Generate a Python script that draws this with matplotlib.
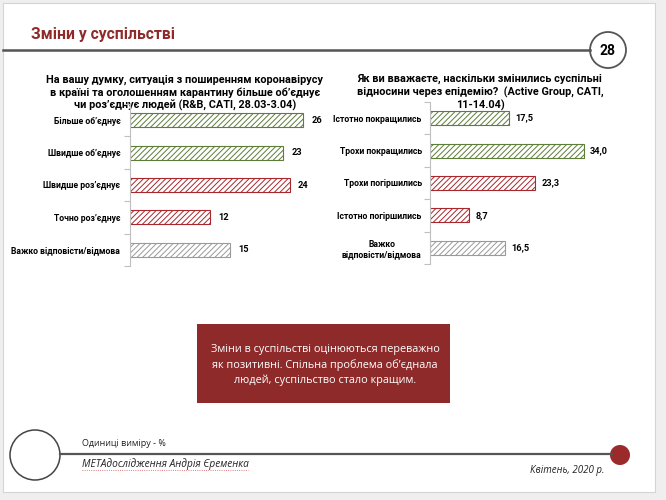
import matplotlib
matplotlib.use('Agg')
import matplotlib.pyplot as plt
from matplotlib.patches import Rectangle, Circle

# data
left_labels = ['Більше об’єднує', 'Швидше об’єднує', 'Швидше роз’єднує',
               'Точно роз’єднує', 'Важко відповісти/відмова']
left_values = [26, 23, 24, 12, 15]
left_groups = ['good', 'good', 'bad', 'bad', 'na']
left_title = ('На вашу думку, ситуація з поширенням коронавірусу\n'
              'в країні та оголошенням карантину більше об’єднує\n'
              'чи роз’єднує людей (R&B, CATI, 28.03-3.04)')

right_labels = ['Істотно покращились', 'Трохи покращились', 'Трохи погіршились',
                'Істотно погіршились', 'Важко\nвідповісти/відмова']
right_values = [17.5, 34.0, 23.3, 8.7, 16.5]
right_groups = ['good', 'good', 'bad', 'bad', 'na']
right_title = ('Як ви вважаєте, наскільки змінились суспільні\n'
               'відносини через епідемію?  (Active Group, CATI,\n'
               '11-14.04)')

colors = {'good': '#5d7d38', 'bad': '#a8282d', 'na': '#9a9a9a'}
red = '#8e2a2a'
narrow = ['DejaVu Sans Condensed', 'Roboto', 'DejaVu Sans']
plain = ['Open Sans', 'DejaVu Sans']

plt.rcParams['hatch.linewidth'] = 0.7

fig = plt.figure(figsize=(6.66, 5), dpi=100, facecolor='#efefef')

# background "slide" in pixel coordinates
bg = fig.add_axes([0, 0, 1, 1])
bg.set_xlim(0, 666)
bg.set_ylim(500, 0)
bg.axis('off')
bg.add_patch(Rectangle((3, 3), 652, 489, facecolor='white', edgecolor='#d4d4d4', lw=0.8))
bg.text(31, 35, 'Зміни у суспільстві', color=red, fontsize=11.3, fontweight='bold',
        family=narrow, va='center', ha='left')
bg.plot([3, 590], [50, 50], color='#555555', lw=1.8)
bg.add_patch(Circle((608, 50), 18, facecolor='white', edgecolor='#555555', lw=1.3))
bg.text(608, 51, '28', fontsize=10, fontweight='bold', family=narrow, ha='center', va='center')

# conclusion box
bg.add_patch(Rectangle((197, 324), 253, 79, facecolor=red, edgecolor='none'))
bg.text(325, 365, 'Зміни в суспільстві оцінюються переважно\nяк позитивні. Спільна проблема об’єднала\nлюдей, суспільство стало кращим.',
        color='white', fontsize=7.8, family=plain, ha='center', va='center', linespacing=1.45)

# footer
bg.plot([60, 612], [454, 454], color='#555555', lw=1.6)
bg.add_patch(Circle((35, 455), 25, facecolor='white', edgecolor='#444444', lw=1.1))
bg.add_patch(Circle((620, 455), 10, facecolor='#9b2a2a', edgecolor='none'))
bg.text(82, 444, 'Одиниці виміру - %', fontsize=6.5, family=plain, ha='left', va='center', color='#222222')
bg.text(82, 464, 'МЕТАдослідження Андрія Єременка', fontsize=7.3, family=plain, style='italic',
        ha='left', va='center', color='#222222')
bg.plot([82, 248], [470, 470], color='#cc5555', lw=0.6, ls=':')
bg.text(604, 470, 'Квітень, 2020 р.', fontsize=7, family=plain, style='italic',
        ha='right', va='center', color='#222222')


def bar_panel(rect, labels, values, groups, xmax, fmt, pad, offset):
    ax = fig.add_axes(rect)
    pos = range(len(values))
    for i, v, g in zip(pos, values, groups):
        ax.barh(i, v, height=0.43, facecolor='white', edgecolor=colors[g],
                hatch='//////', lw=0.8)
        ax.annotate(fmt(v), (v, i), xytext=(offset, 0), textcoords='offset points',
                    ha='left', va='center', fontsize=6.6, fontweight='bold', family=narrow)
    ax.set_xlim(0, xmax)
    ax.set_ylim(len(values) - 0.5, -0.5)
    ax.set_yticks(list(pos))
    ax.set_yticklabels(labels, fontsize=6.2, fontweight='bold', family=narrow,
                       multialignment='center')
    ax.set_yticks([i - 0.5 for i in range(len(values) + 1)], minor=True)
    ax.tick_params(axis='y', which='major', length=0, pad=pad)
    ax.tick_params(axis='y', which='minor', length=4, color='#bfbfbf', width=0.8)
    ax.set_xticks([])
    for s in ['top', 'right', 'bottom']:
        ax.spines[s].set_visible(False)
    ax.spines['left'].set_color('#bfbfbf')
    ax.spines['left'].set_linewidth(0.8)
    ax.patch.set_alpha(0)
    return ax


bar_panel([130 / 666, 1 - 266 / 500, 199.5 / 666, 162 / 500], left_labels, left_values,
          left_groups, 30, lambda v: '%d' % v, 7, 6)
bar_panel([430 / 666, 1 - 264 / 500, 181 / 666, 162 / 500], right_labels, right_values,
          right_groups, 40, lambda v: ('%.1f' % v).replace('.', ','), 6, 4.5)

bg.text(185, 111, left_title, fontsize=7.8, fontweight='bold', family=narrow,
        ha='center', va='bottom', linespacing=1.25)
bg.text(480, 111, right_title, fontsize=7.8, fontweight='bold', family=narrow,
        ha='center', va='bottom', linespacing=1.25)

fig.savefig('out.png', dpi=100, facecolor=fig.get_facecolor())
